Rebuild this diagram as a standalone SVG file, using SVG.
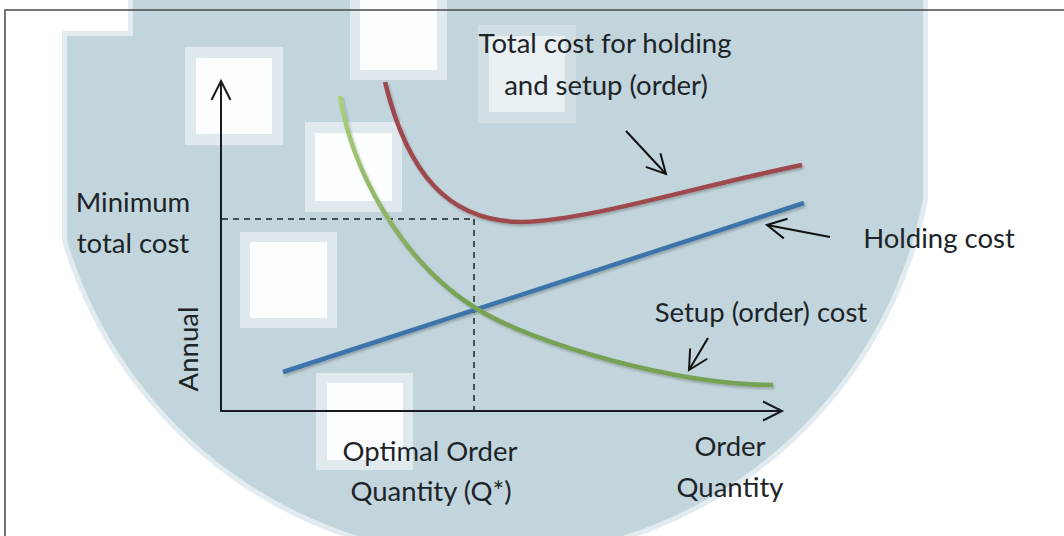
<svg xmlns="http://www.w3.org/2000/svg" width="1064" height="536" viewBox="0 0 1064 536">
  <defs>
    <style>
      .lbl { font-family: Lato, "Liberation Sans", sans-serif; font-size: 27.5px; fill: #1c2428; text-anchor: middle; }
      .ring { fill: #e0eaee; }
      .inner { fill: #fcfeff; }
      .axis { stroke: #161c1f; stroke-width: 2; fill: none; }
      .dash { stroke: #1e2326; stroke-width: 1.5; stroke-dasharray: 6 5; fill: none; }
      .pointer { stroke: #111; stroke-width: 2; fill: none; }
      .curve { fill: none; stroke-width: 4.5; stroke-linecap: butt; }
    </style>
    <marker id="chev" viewBox="-22 -12 24 24" markerWidth="24" markerHeight="24" refX="0" refY="0" orient="auto" markerUnits="userSpaceOnUse" overflow="visible">
      <path d="M-19,-10 L0,0 L-19,10" fill="none" stroke="#111" stroke-width="2"/>
    </marker>
    <marker id="axisHead" viewBox="-22 -12 24 24" markerWidth="24" markerHeight="24" refX="0" refY="0" orient="auto" markerUnits="userSpaceOnUse" overflow="visible">
      <path d="M-19,-9.5 L0,0 L-19,9.5" fill="none" stroke="#161c1f" stroke-width="2"/>
    </marker>
    <linearGradient id="greenGrad" gradientUnits="userSpaceOnUse" x1="0" y1="96" x2="0" y2="300">
      <stop offset="0" stop-color="#a9d07a"/>
      <stop offset="1" stop-color="#77a254"/>
    </linearGradient>
    <filter id="shadow" x="-5%" y="-5%" width="110%" height="120%">
      <feDropShadow dx="1.5" dy="2" stdDeviation="1.2" flood-color="#000" flood-opacity="0.22"/>
    </filter>
  </defs>

  <rect x="0" y="0" width="1064" height="536" fill="#ffffff"/>

  <!-- background watermark shape -->
  <g id="background">
    <path d="M133,0 L923,0 L923,199 A441,441 0 0 1 67,240 L67,36 L133,36 Z" fill="#c2d5dc" stroke="#e2ecf0" stroke-width="10" stroke-linejoin="miter"/>
    <path d="M133,0 L923,0 L923,199 A441,441 0 0 1 67,240 L67,36 L133,36 Z" fill="#c2d5dc"/>
    <rect class="ring" x="185" y="47" width="98" height="98"/>
    <rect class="inner" x="196" y="58" width="76" height="76"/>
    <rect class="ring" x="350" y="0" width="97" height="80"/>
    <rect class="inner" x="360" y="0" width="77" height="70"/>
    <rect class="ring" x="305" y="122" width="97" height="90"/>
    <rect class="inner" x="315" y="133" width="77" height="68"/>
    <rect class="ring" x="478" y="25" width="98" height="98" opacity="0.5"/>
    <rect class="inner" x="489" y="36" width="76" height="76" opacity="0.55"/>
    <rect class="ring" x="240" y="232" width="97" height="96"/>
    <rect class="inner" x="250" y="242" width="77" height="76"/>
    <rect class="ring" x="316" y="373" width="97" height="97"/>
    <rect class="inner" x="327" y="383" width="76" height="77"/>
  </g>

  <!-- frame -->
  <g id="frame">
    <path d="M1064,10 L5,10 L5,536" fill="none" stroke="#4a4a4a" stroke-width="1.5"/>
  </g>

  <g id="connectors">
    <!-- axes -->
    <path id="y-axis" class="axis" d="M221,411 L221,81" marker-end="url(#axisHead)"/>
    <path id="x-axis" class="axis" d="M220,411 L782,411" marker-end="url(#axisHead)"/>
    <!-- dashed guides -->
    <path class="dash" d="M222,219 L474,219"/>
    <path class="dash" d="M474,219 L474,410"/>
    <!-- cost curves -->
    <g filter="url(#shadow)">
      <path id="holding-line" class="curve" stroke="#3d74ab" d="M283,372 L804,203"/>
      <path id="setup-curve" class="curve" stroke="url(#greenGrad)" d="M340,96 C352,170 400,260 474,307 C533,345 680,385 773,385"/>
      <path id="total-curve" class="curve" stroke="#9e4a4d" d="M385,82 C407,172 447,222 523,222 C590,220 690,188 802,165"/>
    </g>
    <!-- label pointers -->
    <path class="pointer" d="M626,131 L666,174" marker-end="url(#chev)"/>
    <path class="pointer" d="M830,237 L767,225" marker-end="url(#chev)"/>
    <path class="pointer" d="M708,338 L689,370" marker-end="url(#chev)"/>
  </g>

  <g id="label-total">
    <text class="lbl" x="605" y="53">Total cost for holding</text>
    <text class="lbl" x="606" y="95">and setup (order)</text>
  </g>
  <g id="label-minimum">
    <text class="lbl" x="133" y="212">Minimum</text>
    <text class="lbl" x="133" y="253">total cost</text>
  </g>
  <g id="label-holding">
    <text class="lbl" x="939" y="248">Holding cost</text>
  </g>
  <g id="label-setup">
    <text class="lbl" x="761" y="322">Setup (order) cost</text>
  </g>
  <g id="label-annual">
    <text class="lbl" x="198" y="349" transform="rotate(-90 198 349)">Annual</text>
  </g>
  <g id="label-optimal">
    <text class="lbl" x="430" y="461">Optimal Order</text>
    <text class="lbl" x="431" y="501">Quantity (Q*)</text>
  </g>
  <g id="label-order">
    <text class="lbl" x="730" y="456">Order</text>
    <text class="lbl" x="730" y="497">Quantity</text>
  </g>
</svg>
